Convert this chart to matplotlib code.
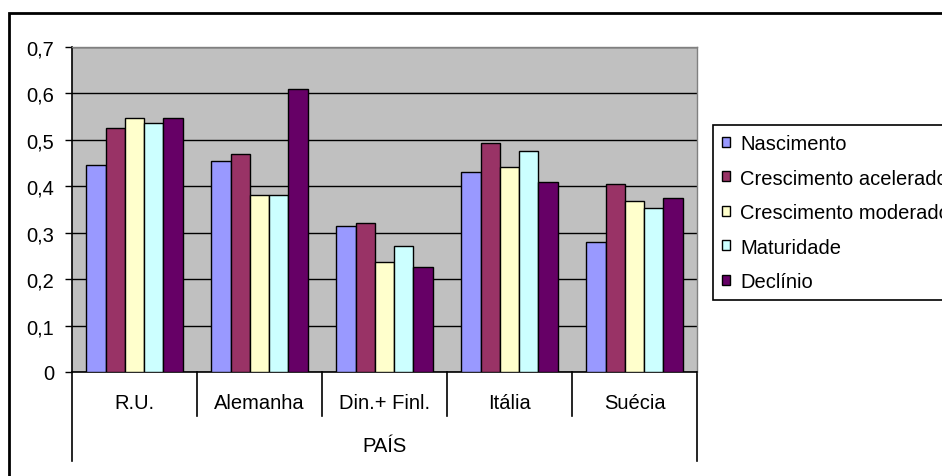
import matplotlib
matplotlib.use("Agg")
import matplotlib.pyplot as plt
from matplotlib.patches import Rectangle
from matplotlib.lines import Line2D
import numpy as np

plt.rcParams["font.family"] = ["Liberation Sans", "DejaVu Sans"]

# Data
paises = ["R.U.", "Alemanha", "Din.+ Finl.", "Itália", "Suécia"]
series = ["Nascimento", "Crescimento acelerado", "Crescimento moderado",
          "Maturidade", "Declínio"]
nascimento = [0.445, 0.455, 0.315, 0.430, 0.280]
acelerado = [0.525, 0.470, 0.322, 0.494, 0.406]
moderado = [0.547, 0.382, 0.238, 0.442, 0.368]
maturidade = [0.536, 0.382, 0.272, 0.477, 0.353]
declinio = [0.547, 0.610, 0.227, 0.409, 0.374]
yticks = [0.0, 0.1, 0.2, 0.3, 0.4, 0.5, 0.6, 0.7]
ytick_labels = ["0", "0,1", "0,2", "0,3", "0,4", "0,5", "0,6", "0,7"]
axis_title = "PAÍS"

values = [nascimento, acelerado, moderado, maturidade, declinio]
colors = ["#9999FF", "#993366", "#FFFFCC", "#CCFFFF", "#660066"]

W, H = 942, 477
fig = plt.figure(figsize=(W / 100, H / 100), dpi=100)


def fx(px):
    return px / W


def fy(py):
    return 1 - py / H


ax_left, ax_right, ax_top, ax_bottom = 72, 697, 48, 373
ax = fig.add_axes([fx(ax_left), fy(ax_bottom),
                   fx(ax_right) - fx(ax_left), fy(ax_top) - fy(ax_bottom)])
ax.set_facecolor("#C0C0C0")
ax.set_axisbelow(True)

x = np.arange(len(paises))
w = 1 / 6.5
for i, (name, vals, col) in enumerate(zip(series, values, colors)):
    ax.bar(x + (i - 2) * w, vals, width=w, color=col, edgecolor="black",
           linewidth=1.0, label=name, zorder=3)

ax.set_xlim(-0.5, len(paises) - 0.5)
ax.set_ylim(0, 0.7)
ax.set_yticks(yticks)
ax.set_yticklabels(ytick_labels)
ax.set_xticks([])
ax.yaxis.grid(True, color="black", linewidth=1.0)
ax.tick_params(axis="y", direction="out", length=5, width=1.0, pad=8,
               labelsize=14.5, colors="black")

for s in ["left", "bottom"]:
    ax.spines[s].set_color("black")
    ax.spines[s].set_linewidth(1.2)
for s in ["top", "right"]:
    ax.spines[s].set_color("#808080")
    ax.spines[s].set_linewidth(1.0)

# Two-level category axis below the plot
axh = ax_bottom - ax_top
tr = ax.get_xaxis_transform()
for i, p in enumerate(paises):
    ax.text(i, -31 / axh, p, transform=tr, ha="center", va="center",
            fontsize=14.5, clip_on=False)
ax.text((len(paises) - 1) / 2, -74 / axh, axis_title, transform=tr,
        ha="center", va="center", fontsize=14.5, clip_on=False)
for b in np.arange(-0.5, len(paises), 1.0):
    outer = b < 0 or b > len(paises) - 1
    yend = -89 / axh if outer else -44 / axh
    ax.add_line(Line2D([b, b], [0, yend], transform=tr, color="black",
                       linewidth=1.2, clip_on=False))

leg = ax.legend(loc="upper left", bbox_to_anchor=(fx(712.7), fy(126)),
                bbox_transform=fig.transFigure, frameon=True, fancybox=False,
                edgecolor="black", framealpha=1, borderaxespad=0,
                fontsize=14.5, handlelength=0.4, handleheight=0.4,
                handletextpad=0.5, labelspacing=0.77, borderpad=0.45)
leg.get_frame().set_linewidth(1.2)

# Chart-area frame
fig.add_artist(Rectangle((fx(9), -1), 2, fy(14) + 1, fill=False,
                         edgecolor="black", linewidth=2,
                         transform=fig.transFigure))

fig.savefig("out.png", dpi=100)
